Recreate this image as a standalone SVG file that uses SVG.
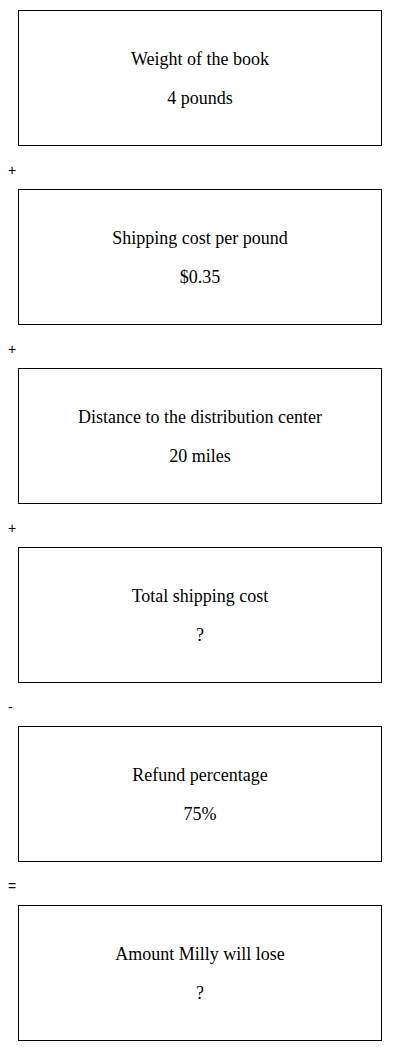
<svg xmlns="http://www.w3.org/2000/svg" width="400" height="1051" viewBox="0 0 400 1051">
<style>
.box{fill:#fff;stroke:#000;stroke-width:1}
.t{font-family:"Liberation Serif",serif;font-size:18px;fill:#000;text-anchor:middle}
.op{font-family:"Liberation Sans",sans-serif;font-size:14px;fill:#000}
</style>
<rect width="400" height="1051" fill="#fff"/>
<g id="n1"><rect class="box" x="18.5" y="10.5" width="363" height="135"/><text class="t" x="200" y="65">Weight of the book</text><text class="t" x="200" y="104">4 pounds</text></g>
<g id="n2"><rect class="box" x="18.5" y="189.5" width="363" height="135"/><text class="t" x="200" y="244">Shipping cost per pound</text><text class="t" x="200" y="283">$0.35</text></g>
<g id="n3"><rect class="box" x="18.5" y="368.5" width="363" height="135"/><text class="t" x="200" y="423">Distance to the distribution center</text><text class="t" x="200" y="462">20 miles</text></g>
<g id="n4"><rect class="box" x="18.5" y="547.5" width="363" height="135"/><text class="t" x="200" y="602">Total shipping cost</text><text class="t" x="200" y="641">?</text></g>
<g id="n5"><rect class="box" x="18.5" y="726.5" width="363" height="135"/><text class="t" x="200" y="781">Refund percentage</text><text class="t" x="200" y="820">75%</text></g>
<g id="n6"><rect class="box" x="18.5" y="905.5" width="363" height="135"/><text class="t" x="200" y="960">Amount Milly will lose</text><text class="t" x="200" y="999">?</text></g>
<g id="connectors">
<text class="op" x="8" y="175">+</text>
<text class="op" x="8" y="354">+</text>
<text class="op" x="8" y="533">+</text>
<text class="op" x="8" y="712">-</text>
<text class="op" x="8" y="891">=</text>
</g>
</svg>
